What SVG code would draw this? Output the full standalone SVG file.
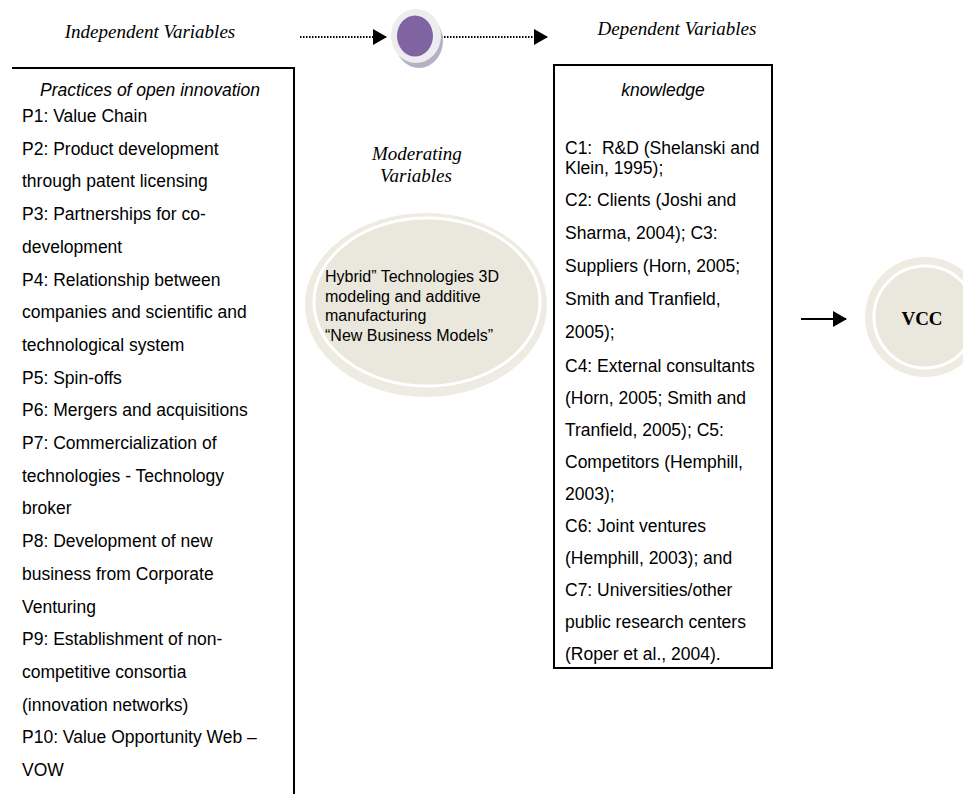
<svg xmlns="http://www.w3.org/2000/svg" width="963" height="794" viewBox="0 0 963 794">
<defs>
<marker id="tri" markerWidth="14" markerHeight="16" refX="13" refY="8" orient="auto" markerUnits="userSpaceOnUse">
<path d="M0,0 L14,8 L0,16 Z" fill="#000"/>
</marker>
<style>
.hdr{font-family:"Liberation Serif",serif;font-style:italic;font-size:19px;fill:#000}
.col{font-family:"Liberation Sans",Arial,sans-serif;font-size:17.5px;fill:#000}
.it{font-style:italic}
.ell{font-family:"Liberation Sans",Arial,sans-serif;font-size:16px;fill:#000}
.vcc{font-family:"Liberation Serif",serif;font-weight:bold;font-size:19px;fill:#000}
.box{fill:none;stroke:#000;stroke-width:2}
.dot{fill:none;stroke:#000;stroke-width:2;stroke-dasharray:1.5 1.5}
.solid{fill:none;stroke:#000;stroke-width:2}
</style>
</defs>
<rect width="963" height="794" fill="#fff"/>

<g id="independent-label">
<text class="hdr" x="150" y="38" text-anchor="middle">Independent Variables</text>
</g>
<g id="dependent-label">
<text class="hdr" x="677" y="35" text-anchor="middle">Dependent Variables</text>
</g>

<g id="connectors">
<line class="dot" x1="300" y1="37" x2="386" y2="37" marker-end="url(#tri)"/>
<line class="dot" x1="441" y1="37" x2="547" y2="37" marker-end="url(#tri)"/>
<line class="solid" x1="801" y1="319" x2="846" y2="319" marker-end="url(#tri)"/>
</g>

<g id="moderator-dot">
<ellipse cx="419" cy="41" rx="24" ry="27" fill="#B7AFC6"/>
<ellipse cx="416" cy="36" rx="25" ry="27" fill="#EDEDF0"/>
<ellipse cx="415" cy="36" rx="18" ry="20.5" fill="#8064A2"/>
</g>

<g id="independent-box">
<path class="box" d="M12,68 H294 V794"/>
<text class="col it" x="150" y="96" text-anchor="middle">Practices of open innovation</text>
<text class="col">
<tspan x="22" y="122">P1: Value Chain</tspan>
<tspan x="22" y="154.7">P2: Product development</tspan>
<tspan x="22" y="187.4">through patent licensing</tspan>
<tspan x="22" y="220">P3: Partnerships for co-</tspan>
<tspan x="22" y="252.8">development</tspan>
<tspan x="22" y="285.5">P4: Relationship between</tspan>
<tspan x="22" y="318.2">companies and scientific and</tspan>
<tspan x="22" y="351">technological system</tspan>
<tspan x="22" y="383.6">P5: Spin-offs</tspan>
<tspan x="22" y="416.3">P6: Mergers and acquisitions</tspan>
<tspan x="22" y="449">P7: Commercialization of</tspan>
<tspan x="22" y="481.7">technologies - Technology</tspan>
<tspan x="22" y="514.4">broker</tspan>
<tspan x="22" y="547">P8: Development of new</tspan>
<tspan x="22" y="579.8">business from Corporate</tspan>
<tspan x="22" y="612.5">Venturing</tspan>
<tspan x="22" y="645.2">P9: Establishment of non-</tspan>
<tspan x="22" y="678">competitive consortia</tspan>
<tspan x="22" y="710.6">(innovation networks)</tspan>
<tspan x="22" y="743.3">P10: Value Opportunity Web –</tspan>
<tspan x="22" y="776">VOW</tspan>
</text>
</g>

<g id="moderating-label">
<text class="hdr" x="372" y="160">Moderating</text>
<text class="hdr" x="380" y="182">Variables</text>
</g>

<g id="moderating-ellipse">
<ellipse cx="426" cy="305" rx="121" ry="92" fill="#EEECE2"/>
<ellipse cx="427" cy="302" rx="113" ry="84" fill="#EAE7DC" stroke="#fff" stroke-width="3"/>
<text class="ell">
<tspan x="325" y="282">Hybrid” Technologies 3D</tspan>
<tspan x="325" y="301.5">modeling and additive</tspan>
<tspan x="325" y="321">manufacturing</tspan>
<tspan x="325" y="340.5">“New Business Models”</tspan>
</text>
</g>

<g id="dependent-box">
<rect class="box" x="554" y="65" width="218" height="603"/>
<text class="col it" x="663" y="96" text-anchor="middle">knowledge</text>
<text class="col">
<tspan x="565" y="154">C1:&#160; R&amp;D (Shelanski and</tspan>
<tspan x="565" y="174">Klein, 1995);</tspan>
<tspan x="565" y="206">C2: Clients (Joshi and</tspan>
<tspan x="565" y="239">Sharma, 2004); C3:</tspan>
<tspan x="565" y="272">Suppliers (Horn, 2005;</tspan>
<tspan x="565" y="305">Smith and Tranfield,</tspan>
<tspan x="565" y="338">2005);</tspan>
<tspan x="565" y="372">C4: External consultants</tspan>
<tspan x="565" y="404">(Horn, 2005; Smith and</tspan>
<tspan x="565" y="436">Tranfield, 2005); C5:</tspan>
<tspan x="565" y="468">Competitors (Hemphill,</tspan>
<tspan x="565" y="500">2003);</tspan>
<tspan x="565" y="532">C6: Joint ventures</tspan>
<tspan x="565" y="564">(Hemphill, 2003); and</tspan>
<tspan x="565" y="596">C7: Universities/other</tspan>
<tspan x="565" y="628">public research centers</tspan>
<tspan x="565" y="660">(Roper et al., 2004).</tspan>
</text>
</g>

<g id="vcc">
<circle cx="925" cy="317" r="60" fill="#EEECE2"/>
<circle cx="925" cy="317" r="51" fill="#EAE7DC" stroke="#fff" stroke-width="3"/>
<text class="vcc" x="922" y="325" text-anchor="middle">VCC</text>
</g>
</svg>
